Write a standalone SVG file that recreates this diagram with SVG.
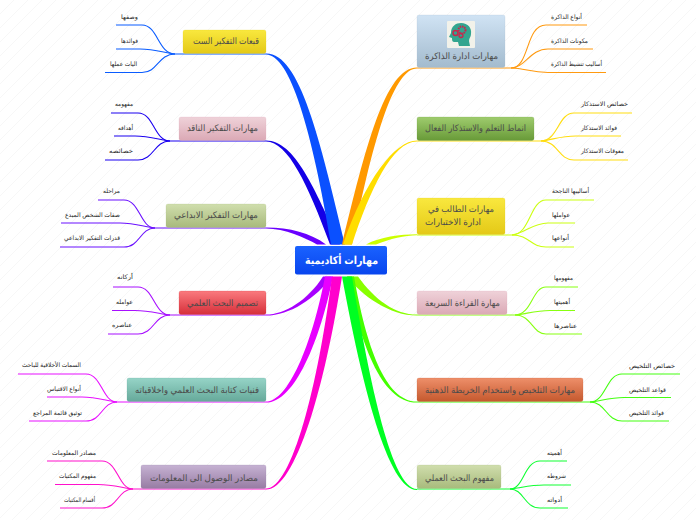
<svg xmlns="http://www.w3.org/2000/svg" width="696" height="520" viewBox="0 0 696 520">
<style>
text{font-family:"Liberation Sans","DejaVu Sans",sans-serif;text-anchor:end;text-rendering:geometricPrecision}
.n{font-size:9px;fill:#4a4a4a}
.s{font-size:6.2px;fill:#222}
.r{font-size:11px;font-weight:bold;fill:#fff}
.c{fill:none;stroke-width:1.1}
.box{stroke-width:.6;stroke-opacity:.35}
.blue{stroke:#0a5cff}.navy{stroke:#1a00f0}.vio{stroke:#6a10ff}.pur{stroke:#a810ff}.mag{stroke:#e810ff}.pnk{stroke:#ff10cc}
.org{stroke:#ff9a10}.gold{stroke:#ffdd10}.lem{stroke:#ccff10}.lim{stroke:#88ff10}.grn{stroke:#44ff10}.gr2{stroke:#10ff33}
</style>
<defs>
<pattern id="hatch" width="14" height="14" patternUnits="userSpaceOnUse"><path d="M-1,15 L15,-1" stroke="#f4f4f4" stroke-width=".7"/></pattern>
<linearGradient id="gY" x1="0" y1="0" x2="0" y2="1"><stop offset="0" stop-color="#f9e83e"/><stop offset="1" stop-color="#e4c917"/></linearGradient>
<linearGradient id="gP" x1="0" y1="0" x2="0" y2="1"><stop offset="0" stop-color="#efd2d9"/><stop offset="1" stop-color="#dba9b5"/></linearGradient>
<linearGradient id="gO" x1="0" y1="0" x2="0" y2="1"><stop offset="0" stop-color="#d0dead"/><stop offset="1" stop-color="#a8ba7c"/></linearGradient>
<linearGradient id="gR" x1="0" y1="0" x2="0" y2="1"><stop offset="0" stop-color="#fa7a7e"/><stop offset="1" stop-color="#d62f3a"/></linearGradient>
<linearGradient id="gT" x1="0" y1="0" x2="0" y2="1"><stop offset="0" stop-color="#96d4c7"/><stop offset="1" stop-color="#66a99a"/></linearGradient>
<linearGradient id="gV" x1="0" y1="0" x2="0" y2="1"><stop offset="0" stop-color="#c6b2d3"/><stop offset="1" stop-color="#977ca3"/></linearGradient>
<linearGradient id="gB" x1="0" y1="0" x2="0" y2="1"><stop offset="0" stop-color="#d0e3f4"/><stop offset="1" stop-color="#a3bbce"/></linearGradient>
<linearGradient id="gG" x1="0" y1="0" x2="0" y2="1"><stop offset="0" stop-color="#9fcc6e"/><stop offset="1" stop-color="#689a38"/></linearGradient>
<linearGradient id="gA" x1="0" y1="0" x2="0" y2="1"><stop offset="0" stop-color="#ee8f6a"/><stop offset="1" stop-color="#c5592e"/></linearGradient>
<linearGradient id="gM" x1="0" y1="0" x2="0" y2="1"><stop offset="0" stop-color="#1a62ff"/><stop offset="1" stop-color="#0845ee"/></linearGradient>
</defs>
<rect width="696" height="520" fill="#fff"/>
<rect width="696" height="520" fill="url(#hatch)"/>

<g id="connectors">
<path fill="#1400e6" d="M266,140.600C295,140.600 315,190 340,244.500L330,244.500C308,185 288,141.600 266,141.600Z"/>
<path fill="#0a50ff" d="M266,53.500C300,53 320,140 345,244.500L331,244.500C312,130 290,54.500 266,54.500Z"/>
<path fill="#6a00ff" d="M266,227.600C290,227.600 310,233 326,244.500L317,244.500C305,238 285,228.600 266,228.600Z"/>
<path fill="#a800ff" d="M266,314.600C285,314.600 308,300 323,276.500L332,276.500C316,298 290,315.600 266,315.600Z"/>
<path fill="#e800ff" d="M266,401.600C288,401.600 312,345 325,276.500L333,276.500C320,340 295,402.600 266,402.600Z"/>
<path fill="#ff00cc" d="M266,488.600C292,488.600 318,385 332,276.500L342,276.500C325,385 296,489.600 266,489.600Z"/>
<path fill="#ff9900" d="M417,67.600C385,67.600 365,150 342,244.500L352,244.500C375,130 395,68.600 417,68.600Z"/>
<path fill="#ffdd00" d="M417,140.600C395,140.600 365,180 343,244.500L352,244.500C370,190 392,141.600 417,141.600Z"/>
<path fill="#ccff00" d="M417,234.300C400,234.300 380,237 366,244.500L376,244.500C390,239 405,235.300 417,235.300Z"/>
<path fill="#88ff00" d="M417,314.600C395,314.600 375,300 358,276.500L347,276.500C362,296 390,315.600 417,315.600Z"/>
<path fill="#44ff00" d="M417,401.600C385,401.600 366,345 354,276.500L347,276.500C360,340 380,402.600 417,402.600Z"/>
<path fill="#00ff22" d="M417,489C392,489 370,385 352,276.500L342,276.500C362,385 388,490 417,490Z"/>

<g class="c blue"><path d="M266,54L175,54C158,54 158,25 142,25L116,25"/><path d="M175,54C165,53 155,49 140,49L116,49"/><path d="M175,54C158,54 158,72.500 142,72.500L105,72.500"/></g>
<g class="c navy"><path d="M266,141L170,141C154,141 154,113 138,113L111,113"/><path d="M170,141C160,140 150,136 135,136L114,136"/><path d="M170,141C154,141 154,160 138,160L105,160"/></g>
<g class="c vio"><path d="M266,228L155,228C140,228 140,200 124,200L98,200"/><path d="M155,228C145,227 135,223 120,223L61,223"/><path d="M155,228C140,228 140,247 124,247L60,247"/></g>
<g class="c pur"><path d="M266,315L170,315C154,315 154,287 138,287L113,287"/><path d="M170,315C160,314 150,310.500 135,310.500L112,310.500"/><path d="M170,315C154,315 154,334 138,334L108,334"/></g>
<g class="c mag"><path d="M266,402L117,402C102,402 102,374 86,374L18,374"/><path d="M117,402C107,401 97,397 82,397L47,397"/><path d="M117,402C102,402 102,421 86,421L29,421"/></g>
<g class="c pnk"><path d="M266,489L133,489C118,489 118,461 102,461L47,461"/><path d="M133,489C123,488 113,484.500 98,484.500L55,484.500"/><path d="M133,489C118,489 118,508 102,508L60,508"/></g>
<g class="c org"><path d="M417,68L511,68C530,68 525,25 546,25L587,25"/><path d="M511,68C525,68 530,49 548,49L593,49"/><path d="M511,68C525,68 530,72.500 548,72.500L606,72.500"/></g>
<g class="c gold"><path d="M417,141L541,141C558,141 558,113 574,113L632,113"/><path d="M541,141C552,140 560,136 576,136L621,136"/><path d="M541,141C558,141 558,160 574,160L628,160"/></g>
<g class="c lem"><path d="M417,235L512,235C530,235 530,200 546,200L594,200"/><path d="M512,235C524,234 532,223 548,223L575,223"/><path d="M512,235C530,235 530,247 546,247L574,247"/></g>
<g class="c lim"><path d="M417,315L515,315C532,315 532,287 546,287L578,287"/><path d="M515,315C526,314 535,310.500 550,310.500L575,310.500"/><path d="M515,315C532,315 532,334 546,334L582,334"/></g>
<g class="c grn"><path d="M417,402L590,402C606,402 606,374 622,374L680,374"/><path d="M590,402C600,401 610,397.500 624,397.500L671,397.500"/><path d="M590,402C606,402 606,421 622,421L669,421"/></g>
<g class="c gr2"><path d="M417,489L510,489C524,489 524,461 540,461L567,461"/><path d="M510,489C520,488 530,485 544,485L571,485"/><path d="M510,489C524,489 524,508 540,508L568,508"/></g>
</g>

<g id="root"><rect x="295" y="246" width="92" height="28.500" rx="2" fill="url(#gM)"/><text class="r" x="378" y="264" textLength="73" lengthAdjust="spacingAndGlyphs">مهارات أكاديمية</text></g>

<g id="n-l1"><rect class="box" x="183" y="30" width="83" height="23.500" rx="2" fill="url(#gY)" stroke="#e4c917"/><text class="n" x="259" y="44" textLength="66" lengthAdjust="spacingAndGlyphs">قبعات التفكير الست</text>
<text class="s" x="138" y="19" textLength="17" lengthAdjust="spacingAndGlyphs">وصفها</text><text class="s" x="138" y="43" textLength="17" lengthAdjust="spacingAndGlyphs">فوائدها</text><text class="s" x="137" y="66" textLength="27" lengthAdjust="spacingAndGlyphs">اليات عملها</text></g>
<g id="n-l2"><rect class="box" x="179" y="117" width="87" height="23.500" rx="2" fill="url(#gP)" stroke="#dba9b5"/><text class="n" x="258" y="131" textLength="71" lengthAdjust="spacingAndGlyphs">مهارات التفكير الناقد</text>
<text class="s" x="133" y="106" textLength="18" lengthAdjust="spacingAndGlyphs">مفهومه</text><text class="s" x="133" y="130" textLength="15" lengthAdjust="spacingAndGlyphs">أهدافه</text><text class="s" x="133" y="153" textLength="24" lengthAdjust="spacingAndGlyphs">خصائصه</text></g>
<g id="n-l3"><rect class="box" x="166" y="204" width="100" height="23.500" rx="2" fill="url(#gO)" stroke="#a8ba7c"/><text class="n" x="258" y="218" textLength="84" lengthAdjust="spacingAndGlyphs">مهارات التفكير الابداعي</text>
<text class="s" x="120" y="193" textLength="17" lengthAdjust="spacingAndGlyphs">مراحله</text><text class="s" x="120" y="217" textLength="55" lengthAdjust="spacingAndGlyphs">صفات الشخص المبدع</text><text class="s" x="120" y="240" textLength="56" lengthAdjust="spacingAndGlyphs">قدرات التفكير الابداعي</text></g>
<g id="n-l4"><rect class="box" x="179" y="291" width="87" height="23.500" rx="2" fill="url(#gR)" stroke="#d62f3a"/><text class="n" x="258" y="306" textLength="71" lengthAdjust="spacingAndGlyphs">تصميم البحث العلمي</text>
<text class="s" x="133" y="279" textLength="16" lengthAdjust="spacingAndGlyphs">أركانه</text><text class="s" x="133" y="304" textLength="17" lengthAdjust="spacingAndGlyphs">عوامله</text><text class="s" x="132" y="327" textLength="20" lengthAdjust="spacingAndGlyphs">عناصره</text></g>
<g id="n-l5"><rect class="box" x="127" y="378" width="139" height="23.500" rx="2" fill="url(#gT)" stroke="#66a99a"/><text class="n" x="259" y="393" textLength="124" lengthAdjust="spacingAndGlyphs">فنيات كتابة البحث العلمي واخلاقياته</text>
<text class="s" x="81" y="367" textLength="59" lengthAdjust="spacingAndGlyphs">السمات الأخلاقية للباحث</text><text class="s" x="81" y="391" textLength="34" lengthAdjust="spacingAndGlyphs">أنواع الاقتباس</text><text class="s" x="82" y="415" textLength="49" lengthAdjust="spacingAndGlyphs">توثيق قائمة المراجع</text></g>
<g id="n-l6"><rect class="box" x="141" y="465" width="125" height="23.500" rx="2" fill="url(#gV)" stroke="#977ca3"/><text class="n" x="258" y="481" textLength="108" lengthAdjust="spacingAndGlyphs">مصادر الوصول الى المعلومات</text>
<text class="s" x="96" y="455" textLength="44" lengthAdjust="spacingAndGlyphs">مصادر المعلومات</text><text class="s" x="96" y="478" textLength="37" lengthAdjust="spacingAndGlyphs">مفهوم المكتبات</text><text class="s" x="95" y="502" textLength="31" lengthAdjust="spacingAndGlyphs">أقسام المكتبات</text></g>

<g id="n-r1"><rect class="box" x="417" y="15" width="88" height="52.500" rx="2" fill="url(#gB)" stroke="#a3bbce"/>
<g id="icon"><rect x="447" y="21" width="28" height="27" rx="1" fill="#f2f2ea"/>
<path fill="#33a58f" d="M451,33C451,26 456,23 461,23C468,23 472,28 471,34C471,37 469,38 469,41L470,46L459,46L458,42L454,42C452,42 452,39 452,38L449,37Z"/>
<g fill="none" stroke="#c8264d"><circle cx="462" cy="30" r="3.500" stroke-width="2" stroke-dasharray="1.500 .8"/><circle cx="455.500" cy="33" r="2.500" stroke-width="1.500"/><circle cx="461" cy="35.500" r="2" stroke-width="1.300"/></g></g>
<text class="n" x="498" y="59" textLength="73" lengthAdjust="spacingAndGlyphs">مهارات ادارة الذاكرة</text>
<text class="s" x="582" y="19" textLength="31" lengthAdjust="spacingAndGlyphs">أنواع الذاكرة</text><text class="s" x="588" y="43" textLength="37" lengthAdjust="spacingAndGlyphs">مكونات الذاكرة</text><text class="s" x="602" y="66" textLength="51" lengthAdjust="spacingAndGlyphs">أساليب تنشيط الذاكرة</text></g>
<g id="n-r2"><rect class="box" x="417" y="117" width="117" height="23.500" rx="2" fill="url(#gG)" stroke="#689a38"/><text class="n" x="526" y="131" textLength="101" lengthAdjust="spacingAndGlyphs">انماط التعلم والاستذكار الفعال</text>
<text class="s" x="628" y="106" textLength="47" lengthAdjust="spacingAndGlyphs">خصائص الاستذكار</text><text class="s" x="617" y="130" textLength="36" lengthAdjust="spacingAndGlyphs">فوائد الاستذكار</text><text class="s" x="624" y="153" textLength="43" lengthAdjust="spacingAndGlyphs">معوقات الاستذكار</text></g>
<g id="n-r3"><rect class="box" x="417" y="198" width="88" height="36.500" rx="2" fill="url(#gY)" stroke="#e4c917"/><text class="n" x="494" y="212" textLength="66" lengthAdjust="spacingAndGlyphs">مهارات الطالب في</text><text class="n" x="481" y="225" textLength="56" lengthAdjust="spacingAndGlyphs">ادارة الاختبارات</text>
<text class="s" x="589" y="193" textLength="37" lengthAdjust="spacingAndGlyphs">أساليبها الناجحة</text><text class="s" x="570" y="217" textLength="18" lengthAdjust="spacingAndGlyphs">عواملها</text><text class="s" x="569" y="240" textLength="17" lengthAdjust="spacingAndGlyphs">أنواعها</text></g>
<g id="n-r4"><rect class="box" x="417" y="291" width="90" height="23.500" rx="2" fill="url(#gP)" stroke="#dba9b5"/><text class="n" x="500" y="306" textLength="75" lengthAdjust="spacingAndGlyphs">مهارة القراءة السريعة</text>
<text class="s" x="573" y="280" textLength="19" lengthAdjust="spacingAndGlyphs">مفهومها</text><text class="s" x="570" y="304" textLength="16" lengthAdjust="spacingAndGlyphs">أهميتها</text><text class="s" x="577" y="328" textLength="23" lengthAdjust="spacingAndGlyphs">عناصرها</text></g>
<g id="n-r5"><rect class="box" x="417" y="378" width="166" height="23.500" rx="2" fill="url(#gA)" stroke="#c5592e"/><text class="n" x="575" y="393" textLength="150" lengthAdjust="spacingAndGlyphs">مهارات التلخيص واستخدام الخريطة الذهنية</text>
<text class="s" x="675" y="368" textLength="46" lengthAdjust="spacingAndGlyphs">خصائص التلخيص</text><text class="s" x="666" y="392" textLength="37" lengthAdjust="spacingAndGlyphs">قواعد التلخيص</text><text class="s" x="664" y="415" textLength="35" lengthAdjust="spacingAndGlyphs">فوائد التلخيص</text></g>
<g id="n-r6"><rect class="box" x="417" y="465" width="84" height="23.500" rx="2" fill="url(#gO)" stroke="#a8ba7c"/><text class="n" x="494" y="481" textLength="69" lengthAdjust="spacingAndGlyphs">مفهوم البحث العملي</text>
<text class="s" x="562" y="455" textLength="15" lengthAdjust="spacingAndGlyphs">أهميته</text><text class="s" x="566" y="478" textLength="19" lengthAdjust="spacingAndGlyphs">شروطه</text><text class="s" x="562" y="502" textLength="15" lengthAdjust="spacingAndGlyphs">أدواته</text></g>
</svg>
